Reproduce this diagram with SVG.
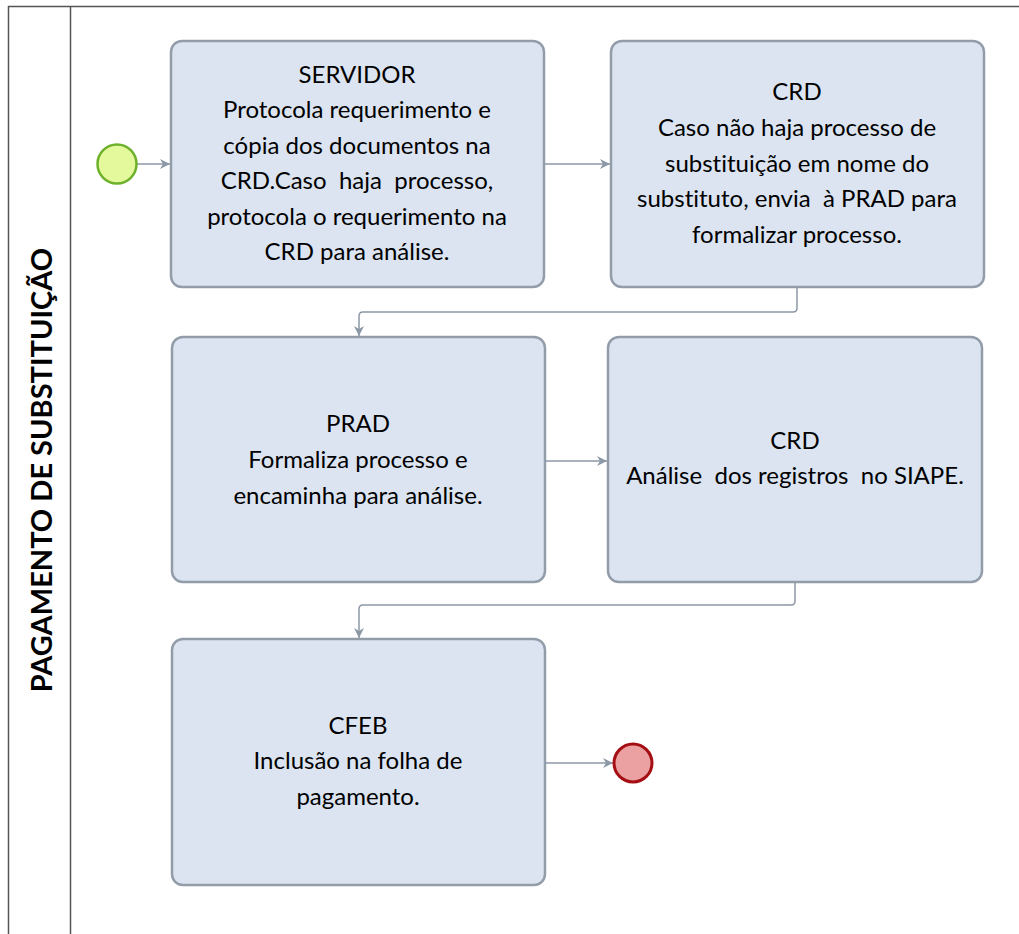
<svg xmlns="http://www.w3.org/2000/svg" width="1019" height="934" viewBox="0 0 1019 934">
<style>
text{font-variant-ligatures:none}
.box{fill:#dbe4f0;stroke:#939daa;stroke-width:2.5}
.t{font-family:Lato,"Liberation Sans",sans-serif;font-size:24px;fill:#000;text-anchor:middle;white-space:pre}
.c{fill:none;stroke:#8d98a6;stroke-width:1.5}
</style>
<defs>
<marker id="ah" viewBox="0 0 10 10" refX="10" refY="5" markerWidth="10" markerHeight="10" markerUnits="userSpaceOnUse" orient="auto">
<path d="M0,0 L10,5 L0,10 L3,5 Z" fill="#8d98a6"/>
</marker>
</defs>
<rect width="1019" height="934" fill="#fff"/>
<g id="pool">
<path d="M8.5,934 V6.5 H1019" fill="none" stroke="#555" stroke-width="1.5"/>
<line x1="70.5" y1="6" x2="70.5" y2="934" stroke="#555" stroke-width="1.5"/>
<text transform="translate(52,470) rotate(-90)" font-family="Lato,'Liberation Sans',sans-serif" font-size="29" font-weight="bold" text-anchor="middle">PAGAMENTO DE SUBSTITUIÇÃO</text>
</g>
<g id="connectors">
<path class="c" d="M137,164 H170" marker-end="url(#ah)"/>
<path class="c" d="M544,164 H610" marker-end="url(#ah)"/>
<path class="c" d="M797,288 V308 Q797,312 793,312 H363 Q359,312 359,316 V336" marker-end="url(#ah)"/>
<path class="c" d="M546,461 H607" marker-end="url(#ah)"/>
<path class="c" d="M795,583 V601 Q795,605 791,605 H363 Q359,605 359,609 V638" marker-end="url(#ah)"/>
<path class="c" d="M546,763 H613" marker-end="url(#ah)"/>
</g>
<g id="start">
<circle cx="117" cy="164" r="19.5" fill="#e3f99b" stroke="#6eb12b" stroke-width="2.5"/>
</g>
<g id="n1">
<rect class="box" x="171" y="41" width="373" height="246" rx="11"/>
<text class="t" x="357" y="83">SERVIDOR</text>
<text class="t" x="357" y="118">Protocola requerimento e</text>
<text class="t" x="357" y="154">cópia dos documentos na</text>
<text class="t" x="357" y="189">CRD.Caso  haja  processo,</text>
<text class="t" x="357" y="225">protocola o requerimento na</text>
<text class="t" x="357" y="260">CRD para análise.</text>
</g>
<g id="n2">
<rect class="box" x="611" y="41" width="373" height="246" rx="11"/>
<text class="t" x="797" y="100">CRD</text>
<text class="t" x="797" y="136">Caso não haja processo de</text>
<text class="t" x="797" y="172">substituição em nome do</text>
<text class="t" x="797" y="207">substituto, envia  à PRAD para</text>
<text class="t" x="797" y="243">formalizar processo.</text>
</g>
<g id="n3">
<rect class="box" x="172" y="337" width="373" height="245" rx="11"/>
<text class="t" x="358" y="432">PRAD</text>
<text class="t" x="358" y="468">Formaliza processo e</text>
<text class="t" x="358" y="504">encaminha para análise.</text>
</g>
<g id="n4">
<rect class="box" x="608" y="337" width="374" height="245" rx="11"/>
<text class="t" x="795" y="449">CRD</text>
<text class="t" x="795" y="484">Análise  dos registros  no SIAPE.</text>
</g>
<g id="n5">
<rect class="box" x="172" y="639" width="373" height="246" rx="11"/>
<text class="t" x="358" y="734">CFEB</text>
<text class="t" x="358" y="769">Inclusão na folha de</text>
<text class="t" x="358" y="805">pagamento.</text>
</g>
<g id="end">
<circle cx="633" cy="763" r="19" fill="#eba0a2" stroke="#a50f13" stroke-width="3"/>
</g>
</svg>
